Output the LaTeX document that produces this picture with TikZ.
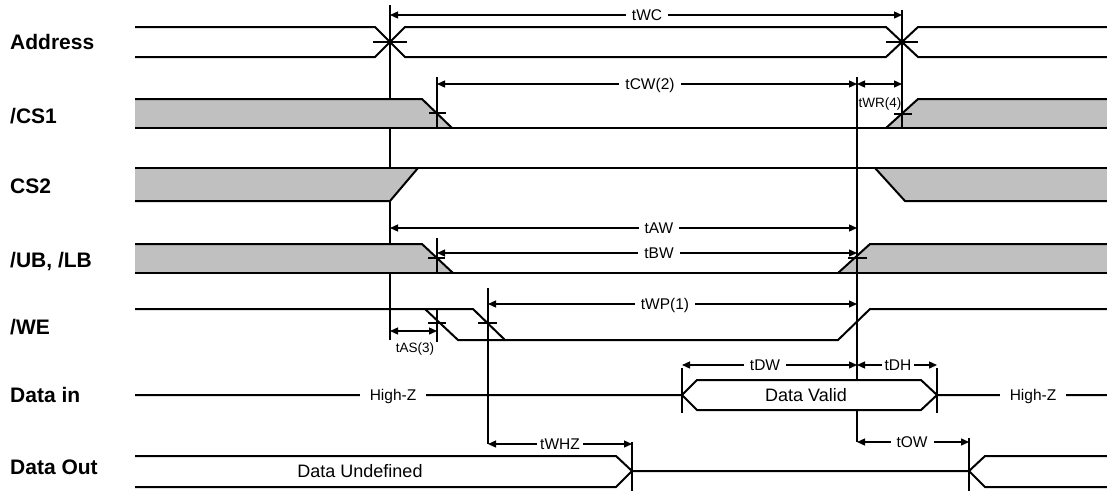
\documentclass[tikz,border=0pt]{standalone}
\usepackage{fontspec}
\setmainfont{Liberation Sans}
\usetikzlibrary{arrows.meta}
\definecolor{sgray}{RGB}{192,192,192}
\begin{document}
\begin{tikzpicture}[x=1pt,y=-1pt,
  sig/.style={line width=2pt, line join=miter},
  ref/.style={line width=1.3pt},
  tick/.style={line width=1.3pt},
  gfill/.style={fill=sgray, draw=none},
  dim/.style={line width=1.3pt, {Triangle[length=8pt,width=7pt]}-{Triangle[length=8pt,width=7pt]}},
  tl/.style={fill=white, inner xsep=6pt, inner ysep=0pt, text height=11.1pt, text depth=0pt, font=\fontsize{15.5}{18}\selectfont},
  sl/.style={inner sep=0pt, text height=9.7pt, text depth=0pt, font=\fontsize{13.5}{16}\selectfont},
  dl/.style={inner sep=0pt, text height=12.9pt, text depth=0pt, font=\fontsize{18}{21}\selectfont},
  sigl/.style={anchor=west, inner sep=0pt, text height=15pt, text depth=0pt, font=\fontsize{21}{25}\selectfont\bfseries}
]
\useasboundingbox (0,0) rectangle (1107,491);

% long reference line
\draw[ref] (390,5) -- (390,340);

% gray fills
\fill[sgray] (135,99) -- (422,99) -- (452,128) -- (135,128) -- cycle;
\fill[sgray] (886,128) -- (918,99) -- (1107,99) -- (1107,128) -- cycle;
\fill[sgray] (135,168) -- (418,168) -- (390,201) -- (135,201) -- cycle;
\fill[sgray] (875,168) -- (1107,168) -- (1107,201) -- (905,201) -- cycle;
\fill[sgray] (135,244) -- (422,244) -- (453,273) -- (135,273) -- cycle;
\fill[sgray] (838,273) -- (870,244) -- (1107,244) -- (1107,273) -- cycle;

% reference verticals
\draw[ref] (902,10) -- (902,128);
\draw[ref] (437,77) -- (437,128);
\draw[ref] (437,238) -- (437,273);
\draw[ref] (437,309) -- (437,342);
\draw[ref] (857,77) -- (857,442);
\draw[ref] (488,288) -- (488,444);
\draw[ref] (682,368) -- (682,413);
\draw[ref] (937,368) -- (937,413);
\draw[ref] (632,442) -- (632,491);
\draw[ref] (969,438) -- (969,491);

% Data Valid box (white, hides reference line)
\fill[white] (682,395) -- (697,380) -- (921,380) -- (937,395) -- (921,410) -- (697,410) -- cycle;

% Address
\draw[sig] (135,27) -- (375,27) -- (405,57) -- (886,57) -- (918,27) -- (1107,27);
\draw[sig] (135,57) -- (375,57) -- (405,27) -- (886,27) -- (918,57) -- (1107,57);
\draw[tick] (373,42) -- (407,42);
\draw[tick] (886,42) -- (918,42);

% /CS1
\draw[sig] (135,99) -- (422,99) -- (452,128);
\draw[sig] (135,128) -- (1107,128);
\draw[sig] (886,128) -- (918,99) -- (1107,99);
\draw[tick] (429,113) -- (446,113);
\draw[tick] (894,114) -- (912,114);

% CS2
\draw[sig] (135,168) -- (1107,168);
\draw[sig] (135,201) -- (390,201) -- (418,168);
\draw[sig] (875,168) -- (905,201) -- (1107,201);

% /UB, /LB
\draw[sig] (135,244) -- (422,244) -- (453,273);
\draw[sig] (135,273) -- (1107,273);
\draw[sig] (838,273) -- (870,244) -- (1107,244);
\draw[tick] (428,258) -- (445,258);
\draw[tick] (848,258) -- (867,258);

% /WE
\draw[sig] (135,309) -- (473,309) -- (505,340) -- (838,340) -- (870,309) -- (1107,309);
\draw[sig] (425,309) -- (458,340) -- (505,340);
\draw[tick] (428,323) -- (446,323);
\draw[tick] (478,323) -- (497,323);

% Data in
\draw[sig] (135,395) -- (682,395) -- (697,380) -- (921,380) -- (937,395) -- (1107,395);
\draw[sig] (682,395) -- (697,410) -- (921,410) -- (937,395);

% Data Out
\draw[sig] (135,456) -- (616,456) -- (632,471) -- (616,487) -- (135,487);
\draw[sig] (632,471) -- (969,471) -- (985,456) -- (1107,456);
\draw[sig] (969,471) -- (985,487) -- (1107,487);

% dimension arrows
\draw[dim] (390,15) -- (902,15);
\node[tl] (twc) at (647,15) {tWC};
\draw[dim] (437,84) -- (857,84);
\node[tl] (tcw) at (650,84) {tCW(2)};
\draw[dim] (857,84) -- (902,84);
\node[sl] (twr) at (880,103) {tWR(4)};
\draw[dim] (390,228) -- (857,228);
\node[tl] (taw) at (659,228) {tAW};
\draw[dim] (437,253) -- (857,253);
\node[tl] (tbw) at (659,253) {tBW};
\draw[dim] (488,304) -- (857,304);
\node[tl] (twp) at (665,304) {tWP(1)};
\draw[dim] (390,331) -- (437,331);
\node[sl] (tas) at (415,348) {tAS(3)};
\draw[dim] (682,365) -- (857,365);
\node[tl] (tdw) at (765,365) {tDW};
\draw[dim] (857,365) -- (937,365);
\node[tl, inner xsep=3pt] (tdh) at (898,365) {tDH};
\draw[dim] (488,444) -- (632,444);
\node[tl, inner xsep=3pt] (twhz) at (560,444) {tWHZ};
\draw[dim] (857,442) -- (969,442);
\node[tl] (tow) at (912,442) {tOW};

% in-signal labels
\node[tl, inner xsep=10pt] (hz1) at (393,395) {High-Z};
\node[tl, inner xsep=10pt] (hz2) at (1033,395) {High-Z};
\node[dl] (dv) at (806,395) {Data Valid};
\node[dl] (du) at (360,471) {Data Undefined};

% signal names
\node[sigl] (nAddr) at (10,42) {Address};
\node[sigl] (nCS1) at (10,116) {/CS1};
\node[sigl] (nCS2) at (10,186) {CS2};
\node[sigl] (nUB) at (10,260) {/UB, /LB};
\node[sigl] (nWE) at (10,327) {/WE};
\node[sigl] (nDin) at (10,395) {Data in};
\node[sigl] (nDout) at (10,467) {Data Out};
\end{tikzpicture}
\end{document}
